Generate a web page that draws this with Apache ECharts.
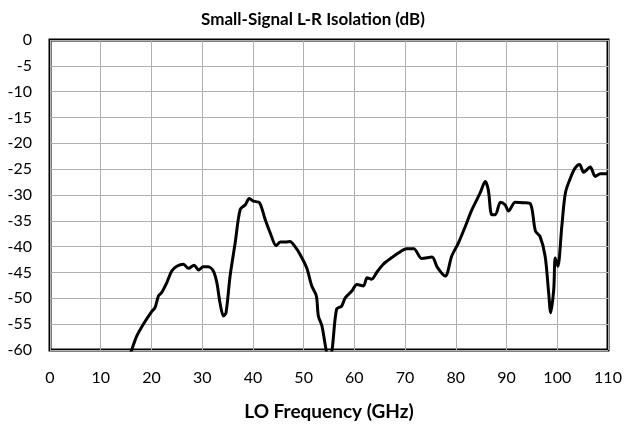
<!DOCTYPE html>
<html><head><meta charset="utf-8">
<script src="https://cdn.jsdelivr.net/npm/echarts@6/dist/echarts.min.js"></script>
<style>html,body{margin:0;padding:0;background:#fff}#c{width:626px;height:426px}</style>
</head><body><div id="c"></div>
<script>
var freqGHz = [15.8,16.1,17.1,18.4,20.0,20.7,21.4,22.0,23.0,24.0,25.0,26.3,27.3,28.4,29.3,30.2,31.2,32.2,32.9,33.5,34.2,34.7,35.5,36.5,37.5,38.5,39.3,40.1,41.3,42.4,43.4,44.6,45.4,46.4,47.3,48.3,49.3,50.6,51.6,52.5,52.9,53.6,54.4,55.0,55.6,56.5,57.5,58.2,59.5,60.5,61.8,62.5,63.4,64.4,65.7,67.4,68.7,70.3,71.7,73.3,75.3,76.3,77.9,79.2,80.5,81.9,83.2,84.8,85.8,86.4,87.1,87.8,88.8,89.7,90.4,91.7,93.4,94.7,95.7,96.6,97.6,98.3,98.7,99.3,99.6,100.1,100.9,101.6,102.6,103.5,104.4,105.2,106.5,107.5,108.5,110];
var isolationDb = [-61,-60,-57.3,-55.0,-52.6,-51.8,-49.5,-48.9,-47.0,-44.7,-43.8,-43.4,-44.2,-43.6,-44.5,-43.9,-43.9,-44.7,-47.0,-50.8,-53.4,-52.8,-45.7,-39.3,-32.8,-31.9,-30.7,-31.2,-31.5,-34.7,-37.3,-39.8,-39.1,-39.1,-39.0,-40.0,-41.5,-44.1,-47.6,-49.5,-53.4,-55.3,-59.8,-62,-60,-52.1,-51.5,-49.9,-48.6,-47.3,-47.6,-46.0,-46.3,-45.0,-43.4,-42.1,-41.2,-40.4,-40.4,-42.3,-42.0,-43.9,-45.7,-41.8,-39.3,-36.0,-32.8,-29.6,-27.4,-29.0,-33.8,-33.8,-31.4,-31.9,-33.1,-31.4,-31.5,-31.7,-37.0,-38.0,-41.8,-48.9,-52.8,-48.3,-42.2,-43.8,-36.0,-29.6,-26.7,-24.8,-24.1,-25.6,-24.6,-26.4,-25.9,-25.9];
var xTicks = [0,10,20,30,40,50,60,70,80,90,100,110];
var yTicks = [0,-5,-10,-15,-20,-25,-30,-35,-40,-45,-50,-55,-60];

var chart = echarts.init(document.getElementById('c'));
var FONT = 'Lato';
chart.setOption({
  animation: false,
  title: {text: 'Small-Signal L-R Isolation (dB)', left: 'center', top: 6,
    textStyle: {fontFamily: FONT, fontWeight: 'bold', fontSize: 17, color: '#000'}},
  grid: {left: 50, right: 18, top: 40, bottom: 75, show: true, borderColor: '#000', borderWidth: 3},
  xAxis: {type: 'value', min: xTicks[0], max: xTicks[xTicks.length-1], interval: 10,
    name: 'LO Frequency (GHz)', nameLocation: 'middle', nameGap: 52,
    nameTextStyle: {fontFamily: FONT, fontWeight: 'bold', fontSize: 19, color: '#000'},
    axisLine: {show: false}, axisTick: {show: false},
    axisLabel: {fontFamily: FONT, fontSize: 16, color: '#000', margin: 20},
    splitLine: {lineStyle: {color: '#b0b0b0', width: 1}}},
  yAxis: {type: 'value', min: yTicks[yTicks.length-1], max: yTicks[0], interval: 5,
    axisLine: {show: false}, axisTick: {show: false},
    axisLabel: {fontFamily: FONT, fontSize: 16, color: '#000', margin: 18},
    splitLine: {lineStyle: {color: '#b0b0b0', width: 1}}},
  series: [{type: 'line', showSymbol: false, clip: true, smooth: 0.3,
    lineStyle: {color: '#000', width: 3},
    data: freqGHz.map(function(f, i){ return [f, isolationDb[i]]; })}]
});
</script></body></html>
